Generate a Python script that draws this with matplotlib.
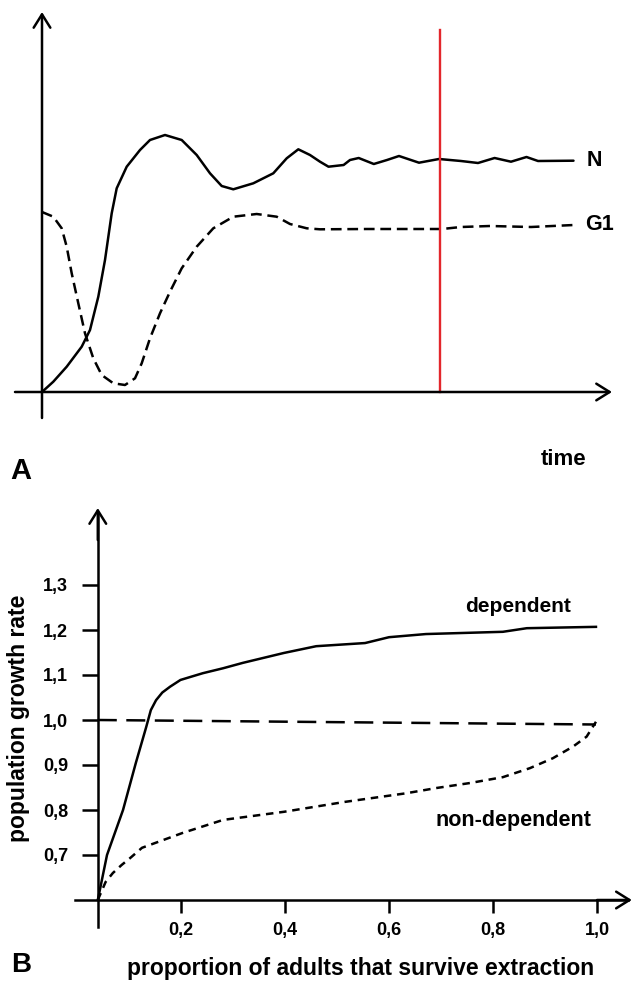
import matplotlib
matplotlib.use("Agg")
import matplotlib.pyplot as plt

plt.rcParams['font.family'] = ['Liberation Sans', 'DejaVu Sans']
plt.rcParams['font.weight'] = 'bold'

# ---------------- Panel A data (arbitrary units) ----------------
time_N = [0.0, 1.13, 2.47, 3.97, 4.8, 5.63, 6.3, 6.97, 7.47, 8.47, 9.8, 10.8, 12.3, 13.97,
          15.47, 16.8, 17.97, 19.13, 21.13, 23.13, 24.47, 25.63, 26.8, 27.8, 28.65, 30.16,
          30.8, 31.67, 33.18, 34.5, 35.7, 37.7, 39.7, 41.9, 43.6, 45.26, 46.9, 48.45, 49.6,
          53.15]
N_values = [0.0, 1.03, 2.53, 4.53, 6.2, 9.53, 13.2, 17.87, 20.37, 22.53, 24.2, 25.2, 25.7,
            25.2, 23.7, 21.87, 20.6, 20.27, 20.87, 21.87, 23.37, 24.27, 23.7, 23.03, 22.53,
            22.7, 23.2, 23.4, 22.8, 23.2, 23.6, 22.93, 23.3, 23.1, 22.9, 23.4, 23.03, 23.5,
            23.1, 23.13]
time_G1 = [0.0, 1.13, 1.97, 2.47, 2.97, 3.63, 4.3, 5.13, 5.97, 7.13, 8.3, 9.3, 9.97, 10.8,
           11.8, 12.8, 13.97, 15.47, 17.13, 19.13, 21.47, 23.47, 24.8, 26.47, 27.8, 32.5,
           36.6, 40.0, 41.9, 44.8, 48.9, 53.2]
G1_values = [18.0, 17.53, 16.37, 14.53, 11.87, 8.87, 5.87, 3.37, 1.7, 0.87, 0.7, 1.37, 2.87,
             5.37, 7.87, 10.03, 12.37, 14.53, 16.37, 17.53, 17.8, 17.53, 16.8, 16.37, 16.27,
             16.3, 16.3, 16.3, 16.5, 16.6, 16.5, 16.7]
extraction_time = 39.8
extraction_top = 36.2

# ---------------- Panel B data ----------------
prop_dep = [0.04, 0.0577, 0.0885, 0.113, 0.133, 0.142, 0.152, 0.164, 0.179, 0.199, 0.219,
            0.242, 0.281, 0.319, 0.398, 0.46, 0.554, 0.6, 0.671, 0.819, 0.865, 0.998]
rate_dep = [0.6, 0.70, 0.80, 0.904, 0.984, 1.022, 1.044, 1.061, 1.074, 1.089, 1.096,
            1.104, 1.115, 1.127, 1.149, 1.164, 1.171, 1.184, 1.191, 1.196, 1.204, 1.207]
prop_nondep = [0.04, 0.055, 0.069, 0.086, 0.102, 0.125, 0.203, 0.281, 0.398, 0.515, 0.632,
               0.692, 0.756, 0.819, 0.871, 0.915, 0.954, 0.98, 0.998]
rate_nondep = [0.6, 0.640, 0.660, 0.678, 0.693, 0.716, 0.749, 0.778, 0.796, 0.818, 0.837,
               0.849, 0.86, 0.873, 0.893, 0.915, 0.941, 0.963, 0.996]
prop_ref = [0.04, 0.998]
rate_ref = [1.0, 0.99]
x_ticks = [0.2, 0.4, 0.6, 0.8, 1.0]
x_ticklabels = ['0,2', '0,4', '0,6', '0,8', '1,0']
y_ticks = [0.7, 0.8, 0.9, 1.0, 1.1, 1.2, 1.3]
y_ticklabels = ['0,7', '0,8', '0,9', '1,0', '1,1', '1,2', '1,3']

W, H = 636, 982
fig = plt.figure(figsize=(W / 100, H / 100), dpi=100)


def fx(px):
    return px / W


def fy(py):
    return 1 - py / H


LW = 1.8
arrow_kw = dict(arrowstyle='->,head_length=0.8,head_width=0.5', lw=LW, color='black',
                mutation_scale=12, shrinkA=0, shrinkB=0)

# ---------------- Panel A ----------------
axA = fig.add_axes([0, fy(420), 1, 420 / H])
axA.set_xlim(-4.2, 59.4)
axA.set_ylim(-2.8, 39.2)
axA.axis('off')
axA.plot(time_N, N_values, color='black', lw=LW, solid_capstyle='round')
axA.plot(time_G1, G1_values, color='black', lw=LW, linestyle=(0, (4.3, 2.3)))
axA.plot([extraction_time, extraction_time], [0, extraction_top], color='#e3262b', lw=1.7)
axA.annotate('', xy=(0, 38.0), xytext=(0, -2.6), arrowprops=arrow_kw)
axA.annotate('', xy=(57.0, 0), xytext=(-2.7, 0), arrowprops=arrow_kw)
axA.text(54.5, N_values[-1], 'N', fontsize=15.5, fontweight='bold', va='center', ha='left')
axA.text(54.3, G1_values[-1], 'G1', fontsize=15.5, fontweight='bold', va='center', ha='left')

fig.text(fx(10), fy(479), 'A', fontsize=21, fontweight='bold', ha='left', va='baseline')
fig.text(fx(541), fy(465), 'time', fontsize=16, fontweight='bold', ha='left', va='baseline')

# ---------------- Panel B ----------------
axB = fig.add_axes([0, 0, 1, 492 / H])
axB.set_xlim((0 - 77) / 520, (636 - 77) / 520)
axB.set_ylim(1 + (720 - 982) / 450, 1 + (720 - 490) / 450)
for s in ['top', 'right']:
    axB.spines[s].set_visible(False)
axB.spines['left'].set_position(('data', 0.04))
axB.spines['bottom'].set_position(('data', 0.6))
axB.spines['left'].set_bounds(0.54, 1.46)
axB.spines['bottom'].set_bounds(-0.004, 1.06)
axB.spines['left'].set_linewidth(LW)
axB.spines['bottom'].set_linewidth(LW)
axB.patch.set_visible(False)
axB.set_xticks(x_ticks)
axB.set_xticklabels(x_ticklabels)
axB.set_yticks(y_ticks)
axB.set_yticklabels(y_ticklabels)
axB.tick_params(axis='x', direction='out', length=9, width=LW, pad=7, labelsize=13)
axB.tick_params(axis='y', direction='out', length=11.5, width=LW, pad=10, labelsize=13)
for lab in axB.get_xticklabels() + axB.get_yticklabels():
    lab.set_fontweight('bold')

axB.annotate('', xy=(0.04, 1.471), xytext=(0.04, 1.40), arrowprops=arrow_kw)
axB.annotate('', xy=(1.067, 0.6), xytext=(1.0, 0.6), arrowprops=arrow_kw)

axB.plot(prop_dep, rate_dep, color='black', lw=LW)
axB.plot(prop_nondep, rate_nondep, color='black', lw=LW, linestyle=(0, (3.0, 2.3)))
axB.plot(prop_ref, rate_ref, color='black', lw=LW, linestyle=(0, (7.6, 3.8)))

fig.text(fx(518), fy(612), 'dependent', fontsize=15, fontweight='bold', ha='center', va='baseline')
fig.text(fx(513), fy(826), 'non-dependent', fontsize=15.5, fontweight='bold', ha='center', va='baseline')
fig.text(fx(19), fy(718), 'population growth rate', fontsize=16.5, fontweight='bold',
         rotation=90, ha='center', va='center')
fig.text(fx(361), fy(975), 'proportion of adults that survive extraction', fontsize=16.5,
         fontweight='bold', ha='center', va='baseline')
fig.text(fx(11), fy(972), 'B', fontsize=20, fontweight='bold', ha='left', va='baseline')

fig.savefig('out.png', dpi=100)
